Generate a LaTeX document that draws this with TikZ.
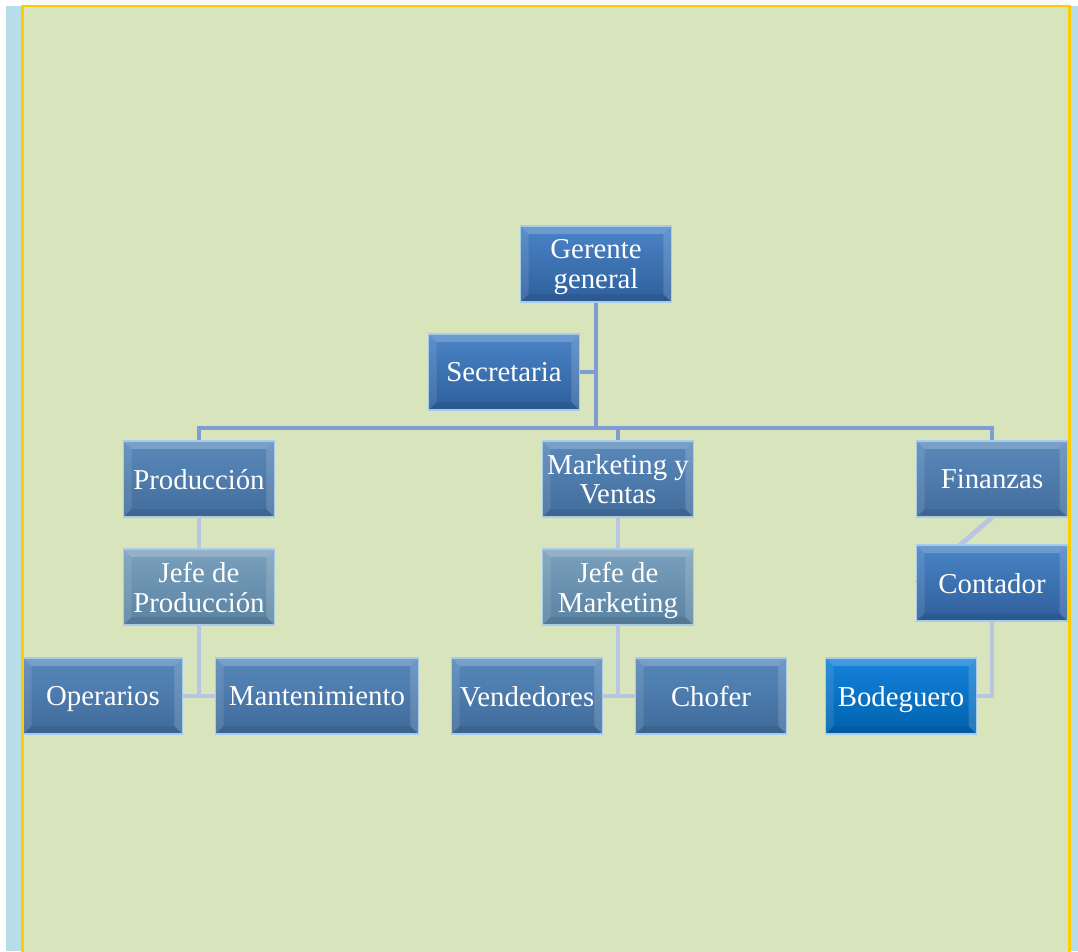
\documentclass[tikz,border=0pt]{standalone}
\usepackage{fontspec}
\setmainfont{Liberation Serif}
\usetikzlibrary{backgrounds}
\definecolor{pageGreen}{HTML}{D8E4BC}
\definecolor{stripBlue}{HTML}{B7DDE8}
\definecolor{frameGold}{HTML}{FFCC00}
\definecolor{lineDark}{HTML}{7F9DD0}
\definecolor{lineLight}{HTML}{B9C6E2}
\definecolor{edgeBlue}{HTML}{A9CBEA}
\definecolor{topHi}{HTML}{4A84C6}
\definecolor{topLo}{HTML}{2F5F9C}
\definecolor{depHi}{HTML}{5A89BA}
\definecolor{depLo}{HTML}{416D9C}
\definecolor{jefeHi}{HTML}{7AA0BC}
\definecolor{jefeLo}{HTML}{5A82A2}
\definecolor{workHi}{HTML}{5788BB}
\definecolor{workLo}{HTML}{3F6B9B}
\definecolor{bodHi}{HTML}{1482DA}
\definecolor{bodLo}{HTML}{0062AE}
\tikzset{
  box/.style={minimum width=3.02cm, minimum height=1.52cm, inner sep=1pt,
    draw=edgeBlue, line width=0.6pt, text=white, align=center,
    font=\fontsize{16.4}{17}\selectfont, text depth=0pt,
    path picture={
      \fill[white, opacity=0.2] (path picture bounding box.north west) -- (path picture bounding box.north east)
        -- ([xshift=-0.16cm, yshift=-0.16cm]path picture bounding box.north east)
        -- ([xshift=0.16cm, yshift=-0.16cm]path picture bounding box.north west) -- cycle;
      \fill[white, opacity=0.1] (path picture bounding box.north west) -- (path picture bounding box.south west)
        -- ([xshift=0.16cm, yshift=0.16cm]path picture bounding box.south west)
        -- ([xshift=0.16cm, yshift=-0.16cm]path picture bounding box.north west) -- cycle;
      \fill[black, opacity=0.08] (path picture bounding box.south west) -- (path picture bounding box.south east)
        -- ([xshift=-0.16cm, yshift=0.16cm]path picture bounding box.south east)
        -- ([xshift=0.16cm, yshift=0.16cm]path picture bounding box.south west) -- cycle;
      \fill[white, opacity=0.15] (path picture bounding box.north east) -- (path picture bounding box.south east)
        -- ([xshift=-0.16cm, yshift=0.16cm]path picture bounding box.south east)
        -- ([xshift=-0.16cm, yshift=-0.16cm]path picture bounding box.north east) -- cycle;
    }},
  topbox/.style={box, top color=topHi, bottom color=topLo},
  depbox/.style={box, top color=depHi, bottom color=depLo},
  jefebox/.style={box, top color=jefeHi, bottom color=jefeLo},
  workbox/.style={box, top color=workHi, bottom color=workLo},
  bodbox/.style={box, top color=bodHi, bottom color=bodLo},
  upline/.style={draw=lineDark, line width=2.8pt},
  lowline/.style={draw=lineLight, line width=2.8pt}
}

\begin{document}
\begin{tikzpicture}[x=0.02cm, y=-0.02cm]
  \useasboundingbox (0,0) rectangle (1078,951);
  % nodes of the chart
  \node[topbox] (ger) at (596,264) {Gerente\\general};
  \node[topbox] (sec) at (504,372) {Secretaria};
  \node[depbox] (prod) at (199,479) {Producción};
  \node[depbox] (mkt) at (618,479) {Marketing y\\Ventas};
  \node[depbox] (fin) at (992,479) {Finanzas};
  \node[jefebox] (jprod) at (199,587) {Jefe de\\Producción};
  \node[jefebox] (jmkt) at (618,587) {Jefe de\\Marketing};
  \node[topbox] (cont) at (992,583) {Contador};
  \node[workbox, minimum width=3.18cm] (oper) at (103,696) {Operarios};
  \node[workbox, minimum width=4.06cm] (mant) at (317,696) {Mantenimiento};
  \node[workbox] (vend) at (527,696) {Vendedores};
  \node[workbox] (chof) at (711,696) {Chofer};
  \node[bodbox] (bod) at (901,696) {Bodeguero};
  \begin{scope}[on background layer]
    % page
    \fill[white] (0,0) rectangle (1078,951);
    \fill[stripBlue] (6,6) rectangle (1078,951);
    \draw[frameGold, line width=1.6pt, fill=pageGreen] (22.5,6) -- (22.5,960) -- (1069.5,960) -- (1069.5,6) -- cycle;
    \coordinate (bus) at (596,428);
    % connectors
    \draw[upline] (ger.south) -- (bus);
    \draw[upline] (sec.east) -- (sec.east -| ger.south);
    \draw[upline] (prod.north) -- (prod.north |- bus) -- (fin.north |- bus) -- (fin.north);
    \draw[upline] (mkt.north) -- (mkt.north |- bus);
    \draw[lowline] (prod) -- (jprod);
    \draw[lowline] (mkt) -- (jmkt);
    \draw[lowline] (jprod.south) |- (oper.east);
    \draw[lowline] (jprod.south) |- (mant.west);
    \draw[lowline] (jmkt.south) |- (vend.east);
    \draw[lowline] (jmkt.south) |- (chof.west);
    \draw[lowline] (fin.south) -- (cont.west);
    \draw[lowline] (cont.south) |- (bod.east);
  \end{scope}
\end{tikzpicture}
\end{document}
